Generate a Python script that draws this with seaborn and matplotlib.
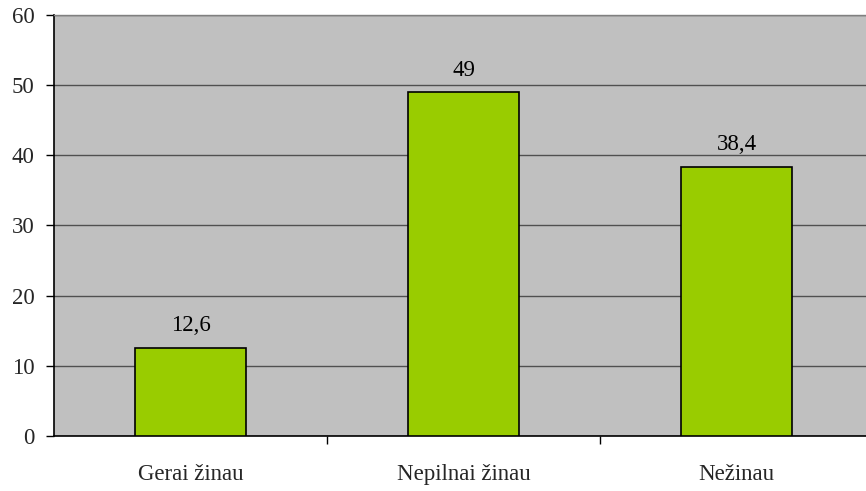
import matplotlib
matplotlib.use("Agg")
import matplotlib.pyplot as plt
import seaborn as sns
import pandas as pd

categories = ["Gerai žinau", "Nepilnai žinau", "Nežinau"]
values = [12.6, 49, 38.4]
value_labels = ["12,6", "49", "38,4"]
y_ticks = [0, 10, 20, 30, 40, 50, 60]

sns.set_style("white")
plt.rcParams["font.family"] = ["Liberation Serif", "DejaVu Serif"]

df = pd.DataFrame({"category": categories, "value": values})

fig = plt.figure(figsize=(8.66, 4.91), dpi=100)
# plot area runs a little past the right edge of the image, as in the original
ax = fig.add_axes([0.0624, 0.112, 0.9457, 0.8575])
ax.set_facecolor("#C0C0C0")

sns.barplot(data=df, x="category", y="value", color="#99CC00", width=0.407,
            edgecolor="black", linewidth=1.2, saturation=1, ax=ax, zorder=3)

for i, (v, lab) in enumerate(zip(values, value_labels)):
    ax.annotate(lab, (i, v), xytext=(0, 8), textcoords="offset points",
                ha="center", va="bottom", fontsize=16.5, color="black", zorder=4)

ax.set_ylim(0, 60)
ax.set_xlim(-0.5, 2.5)
ax.set_yticks(y_ticks)
ax.yaxis.grid(True, color="#505050", linewidth=1.0, zorder=1)
ax.set_axisbelow(True)
ax.tick_params(axis="y", left=True, labelsize=16.5, length=6, width=1, color="black", direction="out", pad=8)
ax.tick_params(axis="x", which="major", labelsize=16.5, length=0, pad=20)
ax.set_xticks([0.5, 1.5], minor=True)
ax.tick_params(axis="x", which="minor", bottom=True, length=6, width=1, color="black", direction="out")
ax.set_xlabel("")
ax.set_ylabel("")

for side in ["left", "bottom"]:
    ax.spines[side].set_color("black")
    ax.spines[side].set_linewidth(1.2)
ax.spines["right"].set_visible(False)
ax.spines["top"].set_color("#808080")
ax.spines["top"].set_linewidth(1.0)

fig.savefig("out.png", dpi=100)
